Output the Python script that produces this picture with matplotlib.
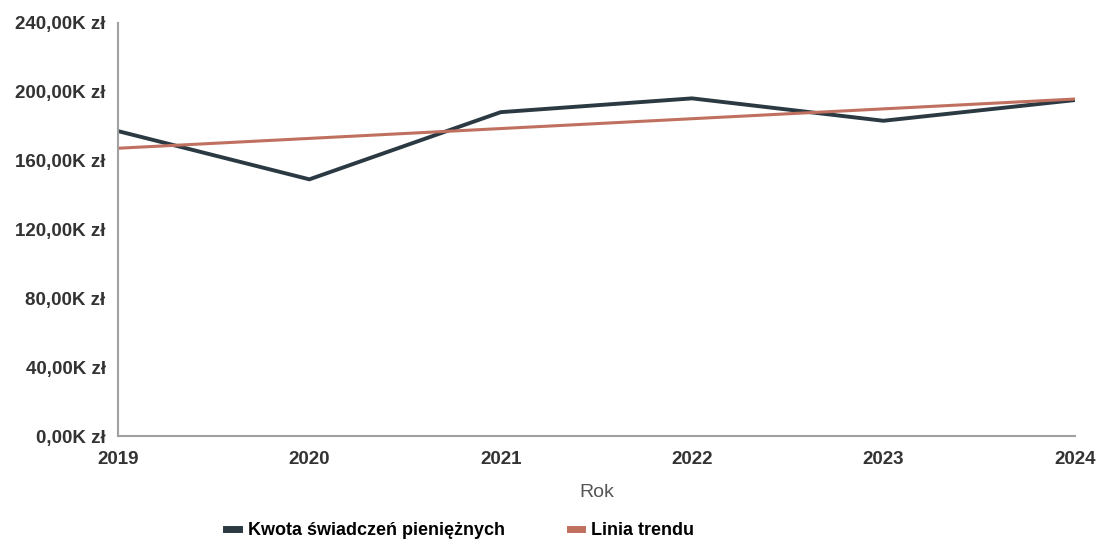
import numpy as np
import matplotlib.pyplot as plt
from matplotlib.ticker import FuncFormatter
from matplotlib.lines import Line2D

# data
years = [2019, 2020, 2021, 2022, 2023, 2024]
kwota = [177000, 149000, 188000, 196000, 183000, 195000]
y_ticks = [0, 40000, 80000, 120000, 160000, 200000, 240000]

# linear trend through the series
coef = np.polyfit(years, kwota, 1)
trend = np.polyval(coef, years)

plt.rcParams['font.family'] = ['Liberation Sans', 'DejaVu Sans']

fig = plt.figure(figsize=(10.99, 5.44), dpi=100)
ax = fig.add_axes([0.1074, 0.1985, 0.8705, 0.76])

c_main = '#2b3a42'
c_trend = '#c0705f'
ax.plot(years, kwota, color=c_main, lw=2.8, solid_joinstyle='miter')
ax.plot(years, trend, color=c_trend, lw=2.2)

ax.set_xlim(years[0], years[-1])
ax.set_ylim(0, 240000)
ax.set_xticks(years)
ax.set_yticks(y_ticks)


def fmt(v, pos):
    return '{:.2f}K zł'.format(v / 1000).replace('.', ',')


ax.yaxis.set_major_formatter(FuncFormatter(fmt))
ax.tick_params(length=0, colors='#333333')
ax.tick_params(axis='y', pad=9, labelsize=13.5)
ax.tick_params(axis='x', pad=11, labelsize=13.5)
for lab in ax.get_xticklabels() + ax.get_yticklabels():
    lab.set_fontweight('bold')

for s in ('top', 'right'):
    ax.spines[s].set_visible(False)
for s in ('left', 'bottom'):
    ax.spines[s].set_color('#a0a0a0')
    ax.spines[s].set_linewidth(1.5)

ax.set_xlabel('Rok', fontsize=14, color='#555555', labelpad=11)

handles = [Line2D([], [], color=c_main, lw=5),
           Line2D([], [], color=c_trend, lw=5)]
labels = ['Kwota świadczeń pieniężnych', 'Linia trendu']
fig.legend(handles, labels, loc='center', bbox_to_anchor=(0.4186, 0.024),
           ncol=2, frameon=False, handlelength=0.7, handletextpad=0.5,
           columnspacing=3.6, prop={'weight': 'bold', 'size': 13})

fig.savefig('out.png', dpi=100)
